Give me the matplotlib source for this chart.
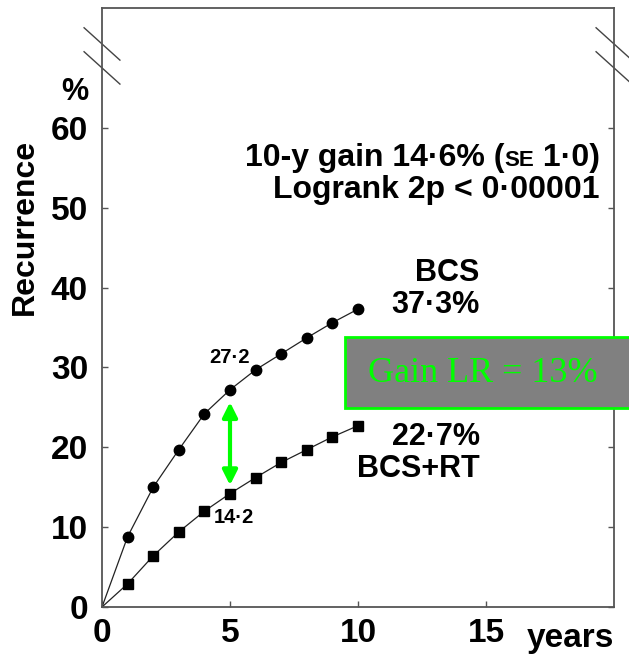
import numpy as np
import matplotlib
matplotlib.use("Agg")
import matplotlib.pyplot as plt
from matplotlib.patches import FancyArrowPatch, Rectangle
from matplotlib.lines import Line2D

# data
years = [0, 1, 2, 3, 4, 5, 6, 7, 8, 9, 10]
bcs = [0, 8.8, 15.0, 19.7, 24.2, 27.2, 29.7, 31.7, 33.7, 35.6, 37.3]
bcs_rt = [0, 2.9, 6.4, 9.4, 12.0, 14.2, 16.2, 18.1, 19.7, 21.3, 22.7]
xticks = [0, 5, 10, 15]
yticks = [0, 10, 20, 30, 40, 50, 60]

plt.rcParams['font.family'] = ['Liberation Sans', 'DejaVu Sans']
plt.rcParams['font.weight'] = 'bold'

fig = plt.figure(figsize=(6.29, 6.55), dpi=100)
ax = fig.add_axes([102/629, 1-607/655, 512/629, 599/655])
ax.set_xlim(0, 20)
ax.set_ylim(0, 75)

dark = '#222222'
ax.plot(years, bcs, '-', color=dark, lw=0.9, marker='o', ms=7.5,
        markevery=list(range(1, 11)), mfc='black', mec='black', clip_on=False)
ax.plot(years, bcs_rt, '-', color=dark, lw=0.9, marker='s', ms=6.5,
        markevery=list(range(1, 11)), mfc='black', mec='black', clip_on=False)

for s in ax.spines.values():
    s.set_color('#555555')
    s.set_linewidth(1.3)

ax.set_xticks(xticks)
ax.set_yticks(yticks)
ax.tick_params(axis='both', direction='in', length=4, width=1, color='#555555',
               labelsize=24, pad=8)
ax.tick_params(axis='y', right=True, pad=10)
for lab in ax.get_xticklabels() + ax.get_yticklabels():
    lab.set_fontweight('bold')

ax.text(-0.55, 64.5, '%', ha='right', va='center', fontsize=22, fontweight='bold')
ax.text(1.0, -0.052, 'years', transform=ax.transAxes, ha='right', va='center',
        fontsize=24, fontweight='bold')
fig.text(25/629, 1-227/655, 'Recurrence', rotation=90, ha='center', va='center',
         fontsize=23, fontweight='bold')

# axis break marks
for x0 in (-0.035, 0.965):
    for y0, y1 in ((0.967, 0.913), (0.927, 0.873)):
        ax.add_line(Line2D([x0, x0+0.07], [y0, y1], transform=ax.transAxes,
                           color='#444444', lw=1.0, clip_on=False))

# point annotations
ax.text(5.0, 31.3, '27·2', ha='center', va='center', fontsize=14.5, fontweight='bold')
ax.text(4.35, 11.2, '14·2', ha='left', va='center', fontsize=14.5, fontweight='bold')

# curve labels
fs = 22
ax.text(14.75, 41.8, 'BCS', ha='right', va='center', fontsize=fs, fontweight='bold')
ax.text(14.75, 37.8, '37·3%', ha='right', va='center', fontsize=fs, fontweight='bold')
ax.text(14.75, 21.3, '22·7%', ha='right', va='center', fontsize=fs, fontweight='bold')
ax.text(14.75, 17.3, 'BCS+RT', ha='right', va='center', fontsize=fs, fontweight='bold')

ax.text(19.45, 52.2, 'Logrank 2p < 0·00001', ha='right', va='center',
        fontsize=23, fontweight='bold')

# first line with small-caps "SE"
pieces = [('10-y gain 14·6% (', 23), ('SE', 16), (' 1·0)', 23)]
fig.canvas.draw()
r = fig.canvas.get_renderer()
arts = [ax.text(0, 0, t, fontsize=f, fontweight='bold', va='baseline', ha='left')
        for t, f in pieces]
widths = [a.get_window_extent(r).width for a in arts]
right_px, base = ax.transData.transform((19.45, 55.2))
x = right_px - sum(widths)
inv = ax.transData.inverted()
for a, w in zip(arts, widths):
    a.set_position(inv.transform((x, base)))
    x += w

# gain arrow
ax.add_patch(FancyArrowPatch((5, 26.0), (5, 14.9), arrowstyle='<|-|>',
                             mutation_scale=22, color='#00ff00', lw=3))

# grey box
fig.patches.append(Rectangle((345/629, 1-408/655), 290/629, 71/655,
                             transform=fig.transFigure, facecolor='#808080',
                             edgecolor='#00ff00', lw=2, figure=fig))
fig.text(483/629, 1-374/655, 'Gain LR = 13%', ha='center', va='center',
         fontsize=26, color='#00ff00', family='Liberation Serif', fontweight='normal')

fig.savefig('out.png', dpi=100)
